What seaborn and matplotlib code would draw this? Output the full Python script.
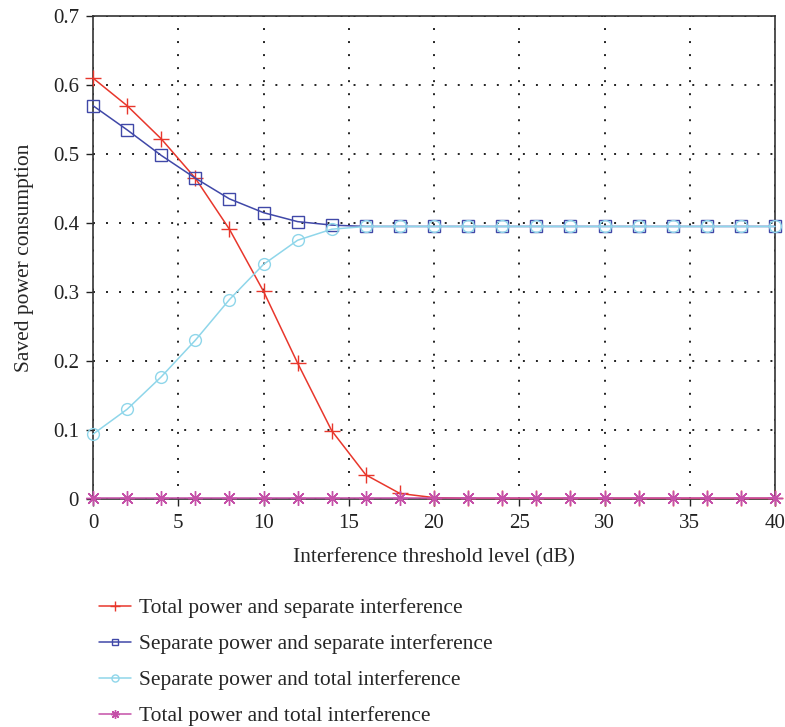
import numpy as np
import pandas as pd
import seaborn as sns
import matplotlib
matplotlib.use("Agg")
import matplotlib.pyplot as plt

x_db = list(range(0, 41, 2))
tp_si = [0.610, 0.570, 0.522, 0.465, 0.391, 0.301, 0.197, 0.099, 0.035, 0.008, 0.002,
         0.001, 0.001, 0.001, 0.001, 0.001, 0.001, 0.001, 0.001, 0.001, 0.001]
sp_si = [0.570, 0.535, 0.498, 0.465, 0.435, 0.415, 0.402, 0.397, 0.395, 0.395, 0.395,
         0.395, 0.395, 0.395, 0.395, 0.395, 0.395, 0.395, 0.395, 0.395, 0.395]
sp_ti = [0.094, 0.130, 0.177, 0.230, 0.289, 0.340, 0.375, 0.391, 0.395, 0.395, 0.395,
         0.395, 0.395, 0.395, 0.395, 0.395, 0.395, 0.395, 0.395, 0.395, 0.395]
tp_ti = [0.002] * 21

labels = ["Total power and separate interference",
          "Separate power and separate interference",
          "Separate power and total interference",
          "Total power and total interference"]
series = [tp_si, sp_si, sp_ti, tp_ti]
colors = ["#e8372c", "#4048a8", "#8fd6ea", "#c550a8"]
markers = ["+", "s", "o", (8, 2, 0)]
msizes = [11, 8, 8.5, 10.5]

sns.set_theme(style="white")
plt.rcParams['font.family'] = ['Liberation Serif', 'DejaVu Serif']

fig = plt.figure(figsize=(7.85, 7.27), dpi=100)
ax = fig.add_axes([93/785, 1-499/727, (775-93)/785, (499-16)/727])

for lab, ys, c, m, ms in zip(labels, series, colors, markers, msizes):
    df = pd.DataFrame({"x": x_db, "y": ys})
    sns.lineplot(data=df, x="x", y="y", ax=ax, color=c, marker=m, label=lab,
                 markersize=ms, markeredgewidth=1.0, clip_on=False,
                 markerfacecolor="none", markeredgecolor=c, linewidth=1.1, zorder=3)

ax.set_xlim(0, 40)
ax.set_ylim(0, 0.7)
ax.set_xticks(range(0, 41, 5))
ax.set_yticks(np.arange(0, 0.71, 0.1))
ax.set_yticklabels(["0", "0.1", "0.2", "0.3", "0.4", "0.5", "0.6", "0.7"])
ax.grid(True, linestyle=(0, (1, 5.7)), color="#222222", linewidth=1.4)
for s in ax.spines.values():
    s.set_color("#333333")
    s.set_linewidth(1.2)
ax.tick_params(axis="both", direction="out", length=5, width=1, colors="#222222",
               labelsize=15, bottom=True, left=True)
ax.tick_params(axis="x", pad=6)
ax.tick_params(axis="y", pad=5)
ax.set_xlabel("Interference threshold level (dB)", fontsize=15.5, labelpad=11)
ax.set_ylabel("Saved power consumption", fontsize=15.5, labelpad=14)

h, l = ax.get_legend_handles_labels()
ax.legend(h, l, loc="upper left", bbox_to_anchor=(80/785, 1-579/727),
          bbox_transform=fig.transFigure, frameon=False, fontsize=15.5,
          handlelength=1.45, handletextpad=0.4, labelspacing=0.74, markerscale=0.6)

fig.savefig("out.png", dpi=100)
